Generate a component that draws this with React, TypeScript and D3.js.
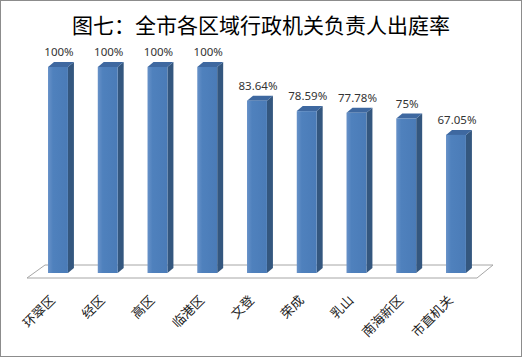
import React from "react";
import * as d3 from "d3";

const categories = ["环翠区", "经区", "高区", "临港区", "文登", "荣成", "乳山", "南海新区", "市直机关"];
const values = [1, 1, 1, 1, 0.8364, 0.7859, 0.7778, 0.75, 0.6705];
const valueLabels = ["100%", "100%", "100%", "100%", "83.64%", "78.59%", "77.78%", "75%", "67.05%"];
const title = "图七：全市各区域行政机关负责人出庭率";

const W = 522;
const H = 357;

export default function App() {
  const x = d3.scaleBand<string>().domain(categories).range([33.1, 480.85]).paddingInner(0.6).paddingOuter(0.3);
  const y = d3.scaleLinear().domain([0, 1]).range([273, 67]);
  const bw = x.bandwidth();
  const dx = 6;
  const dy = 5;
  const floor = d3.line()([
    [27, 278],
    [45, 265],
    [493, 265],
    [477, 278],
  ]) + "Z";
  const cjk = "'Noto Sans CJK SC', 'Noto Sans', sans-serif";
  return (
    <div style={{ position: "absolute", left: 0, top: 0 }}>
      <svg width={W} height={H} style={{ display: "block" }}>
        <defs>
          <linearGradient id="front" x1="0" x2="1" y1="0" y2="0">
            <stop offset="0" stopColor="#6791C8" />
            <stop offset="0.25" stopColor="#4F81BD" />
            <stop offset="1" stopColor="#4A7BB7" />
          </linearGradient>
        </defs>
        <rect x={0.5} y={0.5} width={W - 1} height={H - 1} fill="#fff" stroke="#8c8c8c" />
        <text x={261} y={33} textAnchor="middle" fontFamily={cjk} fontSize={21} fill="#000">
          {title}
        </text>
        <path d={floor} fill="#fff" stroke="#a6a6a6" strokeWidth={1} />
        {categories.map((c, i) => {
          const x0 = x(c)!;
          const yt = y(values[i]);
          const yb = y(0);
          return (
            <g key={c}>
              <path d={`M${x0 + bw},${yt}L${x0 + bw + dx},${yt - dy}L${x0 + bw + dx},${yb - dy}L${x0 + bw},${yb}Z`} fill="#34577F" />
              <path d={`M${x0},${yt}L${x0 + dx},${yt - dy}L${x0 + bw + dx},${yt - dy}L${x0 + bw},${yt}Z`} fill="#3E68A0" />
              <rect x={x0} y={yt} width={bw} height={yb - yt} fill="url(#front)" />
              <text x={x0 + bw / 2 + 1} y={yt - dy - 6} textAnchor="middle" fontFamily="'Noto Sans', sans-serif" fontSize={11.5} fill="#333">
                {valueLabels[i]}
              </text>
              <text
                transform={`translate(${x0 + bw / 2 - 2},${301}) rotate(-45)`}
                textAnchor="end"
                fontFamily={cjk}
                fontSize={13}
                fill="#222"
              >
                {c}
              </text>
            </g>
          );
        })}
      </svg>
    </div>
  );
}
